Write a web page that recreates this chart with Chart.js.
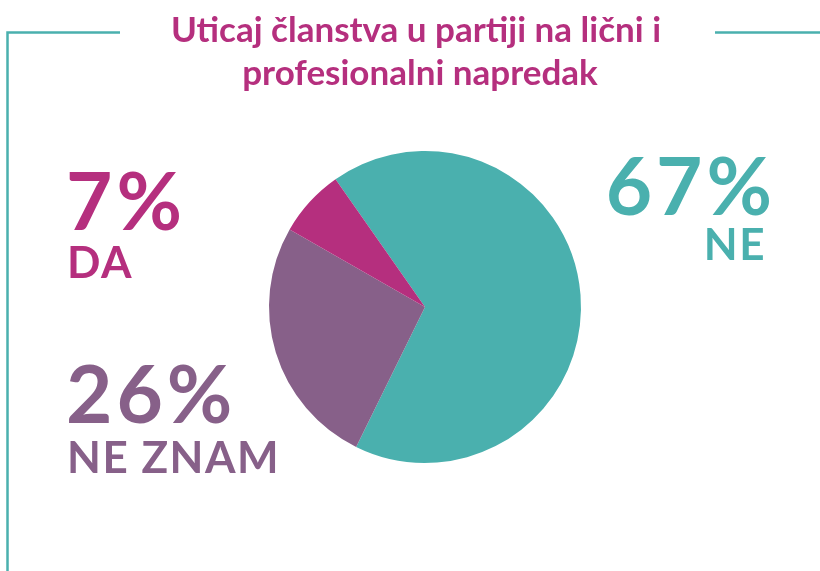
<!DOCTYPE html>
<html>
<head>
<meta charset="utf-8">
<script src="https://cdn.jsdelivr.net/npm/chart.js@4"></script>
<style>
html,body{margin:0;padding:0;background:#fff;}
#wrap{position:relative;width:820px;height:571px;}
</style>
</head>
<body>
<div id="wrap"><canvas id="c" width="820" height="571"></canvas></div>
<script>
const titleLines = ["Uticaj članstva u partiji na lični i", "profesionalni napredak"];
const categories = ["NE", "NE ZNAM", "DA"];
const values = [67, 26, 7];
const colors = ["#4AB0AE", "#876089", "#B52F7E"];
const frameColor = "#4AB0AE";
const FONT = "Lato, 'Open Sans', sans-serif";

const decor = {
  id: 'decor',
  afterDraw(chart) {
    const ctx = chart.ctx;
    ctx.save();
    // frame
    ctx.strokeStyle = frameColor;
    ctx.lineWidth = 2.5;
    ctx.beginPath();
    ctx.moveTo(7.5, 571);
    ctx.lineTo(7.5, 32.5);
    ctx.lineTo(120, 32.5);
    ctx.moveTo(715, 32.5);
    ctx.lineTo(820, 32.5);
    ctx.stroke();
    // title
    ctx.fillStyle = "#B52F7E";
    ctx.textAlign = "center";
    ctx.textBaseline = "alphabetic";
    ctx.font = "bold 35px " + FONT;
    ctx.fillText(titleLines[0], 416, 42);
    ctx.fillText(titleLines[1], 420, 85);
    // labels
    const spec = [
      {i:0, align:"right", x:776, y1:215, x2:766, y2:260},
      {i:1, align:"left", x:66, y1:423, x2:67, y2:473},
      {i:2, align:"left", x:66, y1:230, x2:67, y2:278}
    ];
    spec.forEach(s => {
      ctx.fillStyle = colors[s.i];
      ctx.textAlign = s.align;
      ctx.font = "bold 80px " + FONT;
      ctx.letterSpacing = "4px";
      ctx.fillText(values[s.i] + "%", s.x, s.y1);
      ctx.font = "bold 44px " + FONT;
      ctx.letterSpacing = "1.5px";
      ctx.fillText(categories[s.i], s.x2, s.y2);
    });
    ctx.letterSpacing = "0px";
    ctx.restore();
  }
};

new Chart(document.getElementById('c'), {
  type: 'pie',
  data: {
    labels: categories,
    datasets: [{
      data: values,
      backgroundColor: colors,
      borderWidth: 0
    }]
  },
  options: {
    responsive: false,
    animation: false,
    rotation: -35,
    layout: { padding: { top: 151, bottom: 108, left: 269, right: 239 } },
    plugins: {
      legend: { display: false },
      title: { display: false },
      tooltip: { enabled: false }
    }
  },
  plugins: [decor]
});
</script>
</body>
</html>
